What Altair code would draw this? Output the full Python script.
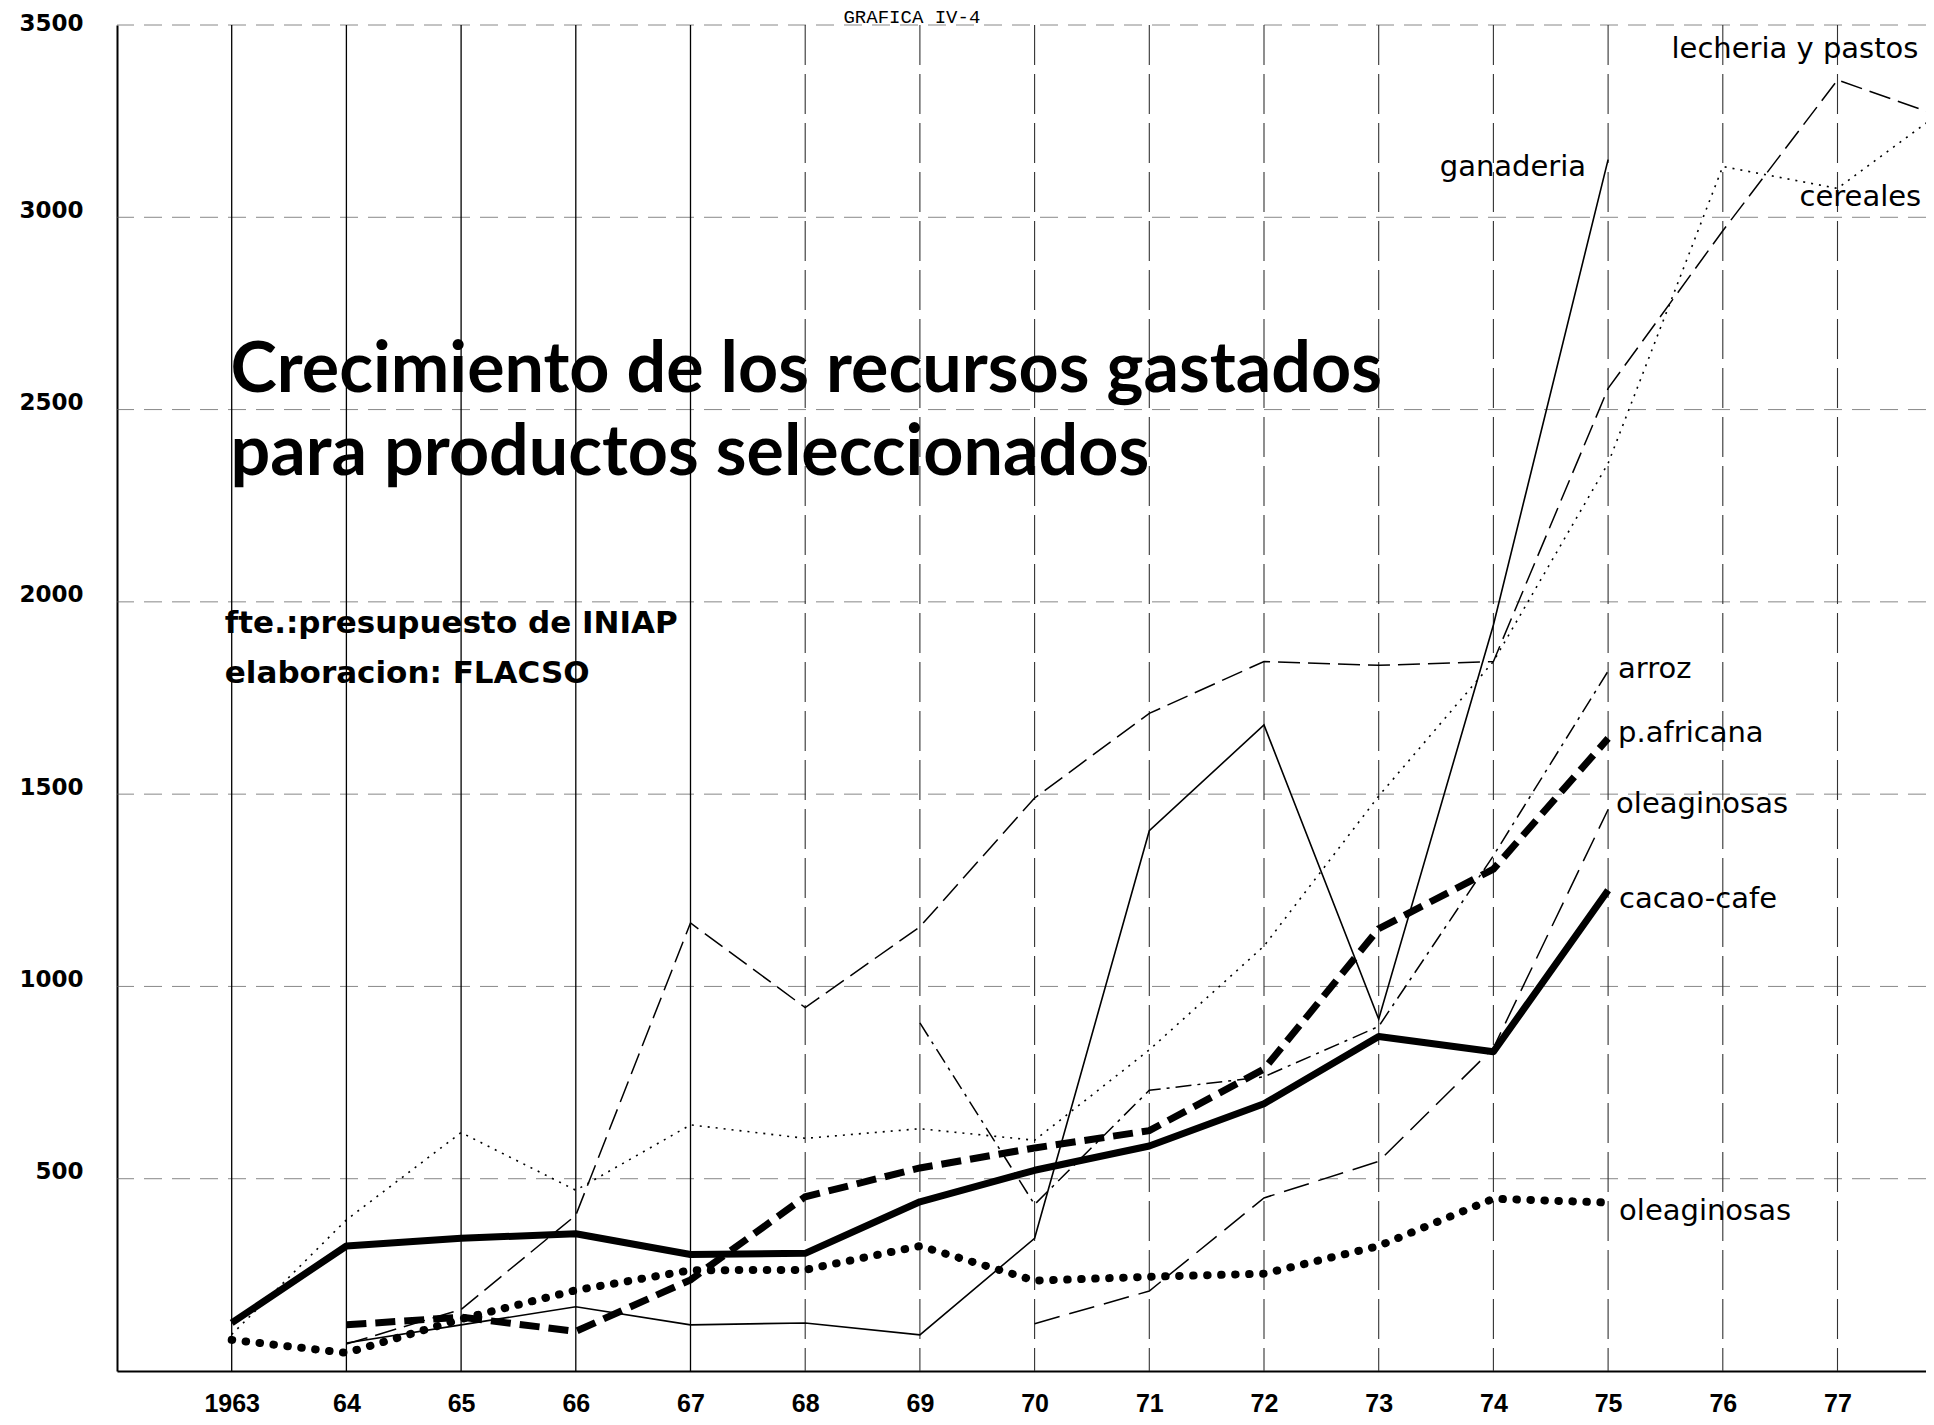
import altair as alt
import pandas as pd

# ---------------- data ----------------
cacao_cafe_years = list(range(1963, 1976))
cacao_cafe = [125, 325, 345, 357, 303, 306, 440, 522, 585, 695, 870, 830, 1250]

p_africana_years = list(range(1964, 1976))
p_africana = [120, 140, 103, 237, 453, 528, 580, 625, 785, 1150, 1305, 1645]

oleaginosas_b_years = list(range(1963, 1976))
oleaginosas_b = [81, 47, 135, 210, 262, 263, 325, 235, 245, 253, 325, 448, 438]

ganaderia_years = list(range(1964, 1976))
ganaderia = [73, 120, 167, 120, 125, 94, 345, 1405, 1680, 915, 1940, 3150]

lecheria_years = list(range(1964, 1979))
lecheria = [70, 160, 405, 1165, 945, 1155, 1490, 1710, 1845, 1835, 1845, 2555, 2965, 3357, 3252]

cereales_years = list(range(1963, 1979))
cereales = [95, 393, 620, 470, 640, 605, 630, 600, 835, 1105, 1495, 1845, 2360, 3132, 3075, 3295]

arroz_years = list(range(1969, 1976))
arroz = [905, 433, 730, 765, 896, 1340, 1820]

oleaginosas_a_years = list(range(1970, 1976))
oleaginosas_a = [123, 208, 450, 545, 840, 1460]

tick_years = list(range(1963, 1978))
y_ticks = [500, 1000, 1500, 2000, 2500, 3000, 3500]

# ---------------- layout ----------------
W, H = 1809, 1346
PX_PER_YEAR = 114.7
XMAX = 1962 + W / PX_PER_YEAR

x_scale = alt.Scale(domain=[1962, XMAX], nice=False, zero=False)
y_scale = alt.Scale(domain=[0, 3500], nice=False, zero=True)

x_axis = alt.Axis(
    values=tick_years, format="d",
    labelExpr="datum.value == 1963 ? datum.label : substring(datum.label, 2)",
    grid=False, ticks=False, domain=True, domainColor="black", domainWidth=2,
    labelFont="Liberation Sans", labelFontWeight="bold", labelFontSize=25,
    labelColor="black", labelBaseline="middle", labelPadding=32, title=None,
)
y_axis = alt.Axis(
    values=y_ticks, format="d", grid=False, ticks=False, domain=True,
    domainColor="black", domainWidth=2,
    labelFont="DejaVu Sans", labelFontWeight="bold", labelFontSize=23,
    labelColor="black", labelBaseline="middle",
    labelOffset={"condition": {"test": "datum.value == 3500", "value": -2}, "value": -7},
    labelPadding=34,
    title=None,
)


def X(field="year"):
    return alt.X(f"{field}:Q", scale=x_scale, axis=x_axis)


def Y(field="value"):
    return alt.Y(f"{field}:Q", scale=y_scale, axis=y_axis)


layers = []

# horizontal grid
hgrid = pd.DataFrame({"value": y_ticks})
layers.append(
    alt.Chart(hgrid).mark_rule(color="#555", strokeWidth=1, strokeDash=[18, 10], opacity=0.7)
    .encode(y=Y())
)

# vertical grid
vg_solid = pd.DataFrame({"year": [y for y in tick_years if y <= 1967]})
vg_dash = pd.DataFrame({"year": [y for y in tick_years if y > 1967]})
layers.append(
    alt.Chart(vg_solid).mark_rule(color="black", strokeWidth=1.3).encode(x=X())
)
layers.append(
    alt.Chart(vg_dash).mark_rule(color="#333", strokeWidth=1.1, strokeDash=[40, 9])
    .encode(x=X())
)

series = [
    ("lecheria", lecheria_years, lecheria, dict(strokeWidth=1.5, strokeDash=[22, 8])),
    ("cereales", cereales_years, cereales, dict(strokeWidth=1.6, strokeDash=[2, 6])),
    ("ganaderia", ganaderia_years, ganaderia, dict(strokeWidth=1.6)),
    ("arroz", arroz_years, arroz, dict(strokeWidth=1.5, strokeDash=[16, 6, 3, 6])),
    ("oleaginosas_a", oleaginosas_a_years, oleaginosas_a, dict(strokeWidth=1.5, strokeDash=[26, 10])),
    ("oleaginosas_b", oleaginosas_b_years, oleaginosas_b,
     dict(strokeWidth=8, strokeDash=[0.5, 13.5], strokeCap="round")),
    ("p_africana", p_africana_years, p_africana, dict(strokeWidth=7, strokeDash=[20, 9])),
    ("cacao_cafe", cacao_cafe_years, cacao_cafe, dict(strokeWidth=7, strokeJoin="round")),
]

for name, yrs, vals, style in series:
    df = pd.DataFrame({"year": yrs, "value": vals})
    layers.append(
        alt.Chart(df).mark_line(color="black", clip=True, **style)
        .encode(x=X(), y=Y())
    )

# series labels, anchored to a point of each series (index into its arrays)
label_font = dict(font="DejaVu Sans", fontSize=29, color="black", baseline="alphabetic")
series_labels = [
    ("ganaderia", ganaderia_years, ganaderia, -1, dict(align="right", dx=-22, dy=16)),
    ("lecheria y pastos", lecheria_years, lecheria, -2, dict(align="left", dx=-166, dy=-22)),
    ("cereales", cereales_years, cereales, -2, dict(align="left", dx=-38, dy=18)),
    ("arroz", arroz_years, arroz, -1, dict(align="left", dx=10, dy=7)),
    ("p.africana", p_africana_years, p_africana, -1, dict(align="left", dx=10, dy=4)),
    ("oleaginosas", oleaginosas_a_years, oleaginosas_a, -1, dict(align="left", dx=8, dy=3)),
    ("cacao-cafe", cacao_cafe_years, cacao_cafe, -1, dict(align="left", dx=11, dy=18)),
    ("oleaginosas", oleaginosas_b_years, oleaginosas_b, -1, dict(align="left", dx=11, dy=17)),
]
for text, yrs, vals, idx, pos in series_labels:
    df = pd.DataFrame({"year": [yrs[idx]], "value": [vals[idx]], "t": [text]})
    layers.append(
        alt.Chart(df).mark_text(**label_font, **pos)
        .encode(x=X(), y=Y(), text="t:N")
    )

# title and notes (anchored in data units)
annotations = [
    ("Crecimiento de los recursos gastados", 1962.99, 2545,
     dict(font="Lato", fontSize=70, fontWeight="bold")),
    ("para productos seleccionados", 1962.99, 2330,
     dict(font="Lato", fontSize=70, fontWeight="bold")),
    ("fte.:presupuesto de INIAP", 1962.94, 1919,
     dict(font="DejaVu Sans", fontSize=31, fontWeight="bold")),
    ("elaboracion: FLACSO", 1962.94, 1789,
     dict(font="DejaVu Sans", fontSize=31, fontWeight="bold")),
]
for text, xv, yv, style in annotations:
    df = pd.DataFrame({"year": [xv], "value": [yv], "t": [text]})
    layers.append(
        alt.Chart(df).mark_text(align="left", baseline="alphabetic", color="black", **style)
        .encode(x=X(), y=Y(), text="t:N")
    )

top_df = pd.DataFrame({"year": [1968.93], "value": [3505], "t": ["GRAFICA IV-4"]})
layers.append(
    alt.Chart(top_df).mark_text(font="Liberation Mono", fontSize=19, color="black",
                                align="center", baseline="alphabetic")
    .encode(x=X(), y=Y(), text="t:N")
)

chart = (
    alt.layer(*layers)
    .properties(
        width=W, height=H,
        padding={"left": 109, "top": 17, "right": 0, "bottom": 46},
        autosize=alt.AutoSizeParams(type="none"),
        background="white",
    )
    .configure_view(stroke=None)
)

chart.save("out.html", embed_options={"renderer": "svg", "actions": False})
